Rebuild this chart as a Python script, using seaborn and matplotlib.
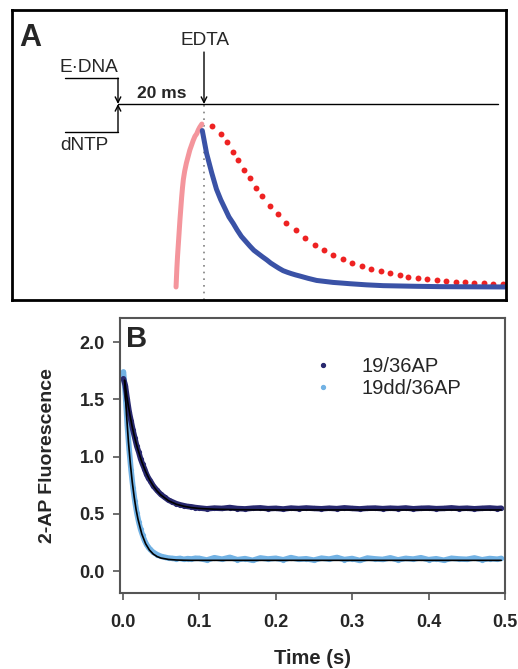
import matplotlib
matplotlib.use("Agg")
import matplotlib.pyplot as plt
import seaborn as sns
from matplotlib.lines import Line2D

sns.set_style("white")
plt.rcParams['font.family'] = ['Liberation Sans', 'DejaVu Sans']

## Panel A schematic (time in ms, normalized signal)
pink_t = [13.5, 13.6, 13.7, 13.85, 14.0, 14.2, 14.4, 14.6, 14.8, 15.0, 15.2, 15.5,
          15.9, 16.3, 16.7, 17.1, 17.5, 17.9, 18.3, 18.7, 19.0, 19.5]
pink_y = [0.0, 0.06, 0.12, 0.19, 0.25, 0.33, 0.41, 0.48, 0.55, 0.61, 0.66, 0.71,
          0.76, 0.80, 0.84, 0.87, 0.90, 0.925, 0.94, 0.965, 0.98, 1.0]

blue_t = [19.6, 20.1, 20.6, 21.2, 21.8, 22.9, 23.9, 24.9, 25.8, 26.8, 27.7, 28.7,
          29.7, 30.7, 31.6, 32.6, 33.6, 34.6, 35.5, 36.5, 37.4, 38.4, 39.4, 40.3,
          41.3, 42.3, 44.2, 46.2, 48.1, 50.0, 52.0, 53.9, 57.8, 61.7, 65.6, 69.5,
          75.0, 82.0, 90.5]
blue_y = [0.96, 0.89, 0.82, 0.76, 0.70, 0.60, 0.535, 0.48, 0.43, 0.39, 0.35, 0.31,
          0.28, 0.25, 0.225, 0.205, 0.185, 0.166, 0.147, 0.13, 0.115, 0.10, 0.09, 0.082,
          0.074, 0.067, 0.053, 0.04, 0.034, 0.028, 0.024, 0.02, 0.013, 0.008, 0.006, 0.004,
          0.002, 0.001, 0.0]

red_t = [21.9, 24.0, 25.3, 26.7, 28.0, 29.4, 30.7, 32.1, 33.6, 35.3, 37.1, 39.1,
         41.3, 43.5, 45.7, 47.9, 50.1, 52.3, 54.5, 56.7, 58.9, 61.1, 63.3, 65.5,
         67.5, 69.7, 71.9, 74.1, 76.3, 78.6, 80.7, 82.9, 85.0, 87.3, 89.6]
red_y = [0.99, 0.94, 0.89, 0.83, 0.78, 0.72, 0.67, 0.61, 0.56, 0.50, 0.45, 0.39,
         0.35, 0.30, 0.26, 0.225, 0.196, 0.17, 0.15, 0.13, 0.11, 0.096, 0.084, 0.074,
         0.063, 0.055, 0.047, 0.041, 0.035, 0.033, 0.029, 0.026, 0.022, 0.02, 0.018]

## Panel B stopped-flow traces
t_data = [0.001, 0.0035, 0.006, 0.0085, 0.011, 0.0135, 0.016, 0.0185, 0.021, 0.0235,
          0.026, 0.0285, 0.031, 0.0335, 0.036, 0.04, 0.045, 0.05, 0.055, 0.06,
          0.065, 0.07, 0.075, 0.08, 0.085, 0.09, 0.095,
          0.10, 0.11, 0.12, 0.13, 0.14, 0.15, 0.16, 0.17, 0.18, 0.19,
          0.20, 0.21, 0.22, 0.23, 0.24, 0.25, 0.26, 0.27, 0.28, 0.29,
          0.30, 0.31, 0.32, 0.33, 0.34, 0.35, 0.36, 0.37, 0.38, 0.39,
          0.40, 0.41, 0.42, 0.43, 0.44, 0.45, 0.46, 0.47, 0.48, 0.49, 0.495]

ap19 = [1.68, 1.62, 1.50, 1.39, 1.31, 1.23, 1.16, 1.09, 1.04, 0.98,
        0.935, 0.895, 0.85, 0.815, 0.79, 0.745, 0.705, 0.67, 0.645, 0.62,
        0.605, 0.59, 0.58, 0.572, 0.565, 0.562, 0.556,
        0.552, 0.545, 0.551, 0.548, 0.556, 0.547, 0.544, 0.550, 0.553, 0.546,
        0.549, 0.543, 0.551, 0.547, 0.552, 0.548, 0.545, 0.550, 0.546, 0.553,
        0.548, 0.544, 0.549, 0.551, 0.546, 0.550, 0.547, 0.552, 0.545, 0.549,
        0.551, 0.546, 0.548, 0.553, 0.547, 0.550, 0.545, 0.549, 0.552, 0.547, 0.550]

ap19dd = [1.74, 1.55, 1.28, 1.06, 0.88, 0.73, 0.61, 0.51, 0.43, 0.365,
          0.315, 0.27, 0.235, 0.21, 0.19, 0.165, 0.145, 0.13, 0.122, 0.115,
          0.112, 0.108, 0.112, 0.104, 0.11, 0.107, 0.113,
          0.112, 0.098, 0.118, 0.105, 0.121, 0.101, 0.110, 0.095, 0.116, 0.107,
          0.113, 0.100, 0.119, 0.104, 0.109, 0.097, 0.114, 0.106, 0.120, 0.102,
          0.111, 0.094, 0.115, 0.108, 0.103, 0.117, 0.099, 0.112, 0.106, 0.118,
          0.101, 0.109, 0.096, 0.113, 0.107, 0.104, 0.116, 0.100, 0.111, 0.105, 0.112]

# fitted curves
t_fit = [0.0025, 0.005, 0.0075, 0.01, 0.0125, 0.015, 0.0175, 0.02, 0.025, 0.03,
         0.035, 0.04, 0.045, 0.05, 0.06, 0.07, 0.08, 0.09, 0.10, 0.12,
         0.15, 0.2, 0.3, 0.4, 0.495]
fit19 = [1.665, 1.545, 1.44, 1.345, 1.26, 1.185, 1.12, 1.06, 0.955, 0.87,
         0.80, 0.745, 0.70, 0.665, 0.615, 0.585, 0.567, 0.555, 0.548, 0.541,
         0.537, 0.535, 0.535, 0.535, 0.535]
fit19dd = [1.665, 1.37, 1.13, 0.94, 0.78, 0.65, 0.54, 0.455, 0.325, 0.24,
           0.185, 0.15, 0.128, 0.115, 0.103, 0.098, 0.096, 0.095, 0.095, 0.095,
           0.095, 0.095, 0.095, 0.095, 0.095]

fig = plt.figure(figsize=(5.18, 6.69), dpi=100)

# ---------------- Panel A ----------------
axA = fig.add_axes([12/518, 1 - 300/669, 494/518, 290/669])
axA.set_xlim(-24.65, 90.23)
axA.set_ylim(-0.08, 1.70)
axA.set_xticks([])
axA.set_yticks([])
for s in axA.spines.values():
    s.set_color("black")
    s.set_linewidth(2)

axA.plot([20, 20], [-0.08, 1.123], color="gray", ls=(0, (1, 3)), lw=1.2)
sns.lineplot(x=pink_t, y=pink_y, ax=axA, color="#f4959c", lw=3.6, sort=False)
sns.lineplot(x=blue_t, y=blue_y, ax=axA, color="#3a52a6", lw=3.6, sort=False)
sns.scatterplot(x=red_t, y=red_y, ax=axA, color="#ee2222", s=18, linewidth=0)

# mixing / quench scheme
axA.plot([0, 88.4], [1.123, 1.123], color="black", lw=1)
axA.plot([-12.3, 0], [1.282, 1.282], color="black", lw=1)
axA.plot([-12.3, 0], [0.951, 0.951], color="black", lw=1)
arrow = dict(arrowstyle="->", color="black", lw=1, shrinkA=0, shrinkB=0)
axA.annotate("", xy=(0, 1.123), xytext=(0, 1.282), arrowprops=arrow)
axA.annotate("", xy=(0, 1.123), xytext=(0, 0.951), arrowprops=arrow)
axA.annotate("", xy=(20, 1.123), xytext=(20, 1.442), arrowprops=arrow)

axA.text(-23.0, 1.53, "A", fontsize=22, fontweight="bold", va="center", ha="left")
axA.text(20.2, 1.515, "EDTA", fontsize=13.7, ha="center", va="center")
axA.text(10.1, 1.19, "20 ms", fontsize=12.5, fontweight="bold", ha="center", va="center")
axA.text(-6.7, 1.35, "E·DNA", fontsize=13.7, ha="center", va="center")
axA.text(-7.9, 0.87, "dNTP", fontsize=13.7, ha="center", va="center")

# ---------------- Panel B ----------------
axB = fig.add_axes([120/518, 1 - 593/669, 385/518, 275/669])
dark = "#28286e"
light = "#72b2e4"
sns.lineplot(x=t_data, y=ap19dd, ax=axB, color=light, lw=4)
sns.scatterplot(x=t_data, y=ap19dd, ax=axB, color=light, s=14, linewidth=0)
sns.lineplot(x=t_data, y=ap19, ax=axB, color=dark, lw=4)
sns.scatterplot(x=t_data, y=ap19, ax=axB, color=dark, s=14, linewidth=0)
sns.lineplot(x=t_fit, y=fit19, ax=axB, color="black", lw=1.2)
sns.lineplot(x=t_fit, y=fit19dd, ax=axB, color="black", lw=1.2)

axB.set_xlim(-0.0035, 0.5)
axB.set_ylim(-0.19, 2.21)
axB.set_xticks([0.0, 0.1, 0.2, 0.3, 0.4, 0.5])
axB.set_xticklabels(["0.0", "0.1", "0.2", "0.3", "0.4", "0.5"])
axB.set_yticks([0.0, 0.5, 1.0, 1.5, 2.0])
axB.set_yticklabels(["0.0", "0.5", "1.0", "1.5", "2.0"])
axB.tick_params(axis="both", direction="out", length=5, width=1.2, color="#555555",
                labelsize=13, bottom=True, left=True)
axB.tick_params(axis="x", pad=10)
axB.tick_params(axis="y", pad=6)
for lab in axB.get_xticklabels() + axB.get_yticklabels():
    lab.set_fontweight("bold")
for s in axB.spines.values():
    s.set_color("#555555")
    s.set_linewidth(1.5)
axB.set_xlabel("Time (s)", fontsize=14.5, fontweight="bold")
axB.set_ylabel("2-AP Fluorescence", fontsize=14, fontweight="bold")
axB.xaxis.set_label_coords(0.5, -0.205)
axB.yaxis.set_label_coords(-0.165, 0.5)
axB.text(0.015, 0.975, "B", transform=axB.transAxes, fontsize=21, fontweight="bold",
         va="top", ha="left")

handles = [Line2D([], [], marker="o", ls="", color=dark, markersize=2.8),
           Line2D([], [], marker="o", ls="", color=light, markersize=2.8)]
axB.legend(handles, ["19/36AP", "19dd/36AP"], frameon=False, fontsize=14.5,
           loc="upper left", bbox_to_anchor=(0.44, 0.925), handletextpad=1.2,
           labelspacing=0.15, handlelength=1.5)

fig.savefig("out.png", dpi=100)
